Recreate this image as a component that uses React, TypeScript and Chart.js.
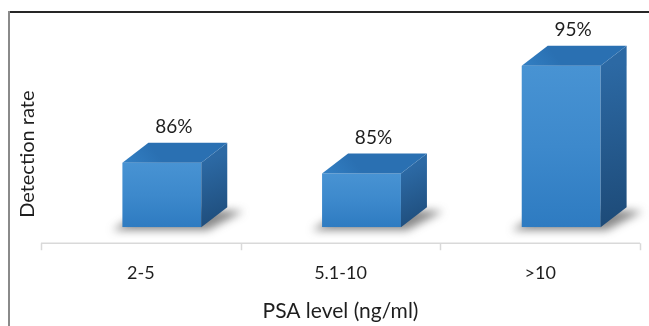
import React, { useEffect, useRef } from "react";
import { Chart, registerables } from "chart.js";

Chart.register(...registerables);

// PSA ranges and the detection rate (%) found in each
const categories = ["2-5", "5.1-10", ">10"];
const detectionRates = [86, 85, 95];
const rateAxisMin = 80;
const rateAxisMax = 100;
const valueTitle = "Detection rate";
const categoryTitle = "PSA level (ng/ml)";

const FONT = "Lato, 'Open Sans', sans-serif";
const TEXT = "#1e1e1e";

// 3D extrusion geometry for the blocks
const DEPTH_X = 26;
const DEPTH_Y = 20;
const SHIFT_X = 21;

const frame = {
  id: "frame",
  afterDraw(chart: any) {
    const { ctx } = chart;
    const w = chart.canvas.width;
    const h = chart.canvas.height;
    ctx.save();
    ctx.fillStyle = "#262626";
    ctx.fillRect(8, 11, w - 8, 2);
    ctx.fillStyle = "#8a8a8a";
    ctx.fillRect(8, 11, 2, h - 11);
    ctx.restore();
  },
};

// rotated value-axis caption, placed low beside the plot like the office-style layout
const valueCaption = {
  id: "valueCaption",
  afterDraw(chart: any) {
    const { ctx, chartArea } = chart;
    ctx.save();
    ctx.translate(28, chartArea.bottom - 73);
    ctx.rotate(-Math.PI / 2);
    ctx.fillStyle = TEXT;
    ctx.font = `20px ${FONT}`;
    ctx.textAlign = "center";
    ctx.textBaseline = "middle";
    ctx.fillText(valueTitle, 0, 0);
    ctx.restore();
  },
};

const categoryAxis = {
  id: "categoryAxis",
  beforeDatasetsDraw(chart: any) {
    const { ctx, chartArea } = chart;
    const xs = chart.scales.x;
    const half = (xs.getPixelForValue(1) - xs.getPixelForValue(0)) / 2;
    const y = chartArea.bottom + 16;
    ctx.save();
    ctx.strokeStyle = "#d9d9d9";
    ctx.lineWidth = 1.5;
    ctx.beginPath();
    ctx.moveTo(xs.left, y);
    ctx.lineTo(xs.right, y);
    for (let i = 0; i <= categories.length; i++) {
      const tx = Math.round(xs.getPixelForValue(0) - half + i * 2 * half) + 0.5;
      ctx.moveTo(tx, y);
      ctx.lineTo(tx, y + 7);
    }
    ctx.stroke();
    ctx.restore();
  },
};

const extrude = {
  id: "extrude",
  beforeDatasetsDraw(chart: any) {
    const { ctx } = chart;
    const meta = chart.getDatasetMeta(0);
    // soft floor shadows under each block
    meta.data.forEach((bar: any) => {
      const { x, base, width } = bar.getProps(["x", "base", "width"], true);
      const left = x - width / 2 + SHIFT_X;
      const right = x + width / 2 + SHIFT_X;
      ctx.save();
      ctx.filter = "blur(4px)";
      ctx.fillStyle = "rgba(60,60,60,0.6)";
      ctx.beginPath();
      ctx.moveTo(left - 10, base + 3);
      ctx.lineTo(right + 6, base + 3);
      ctx.lineTo(right + DEPTH_X + 16, base - DEPTH_Y + 4);
      ctx.lineTo(left + DEPTH_X, base - DEPTH_Y);
      ctx.closePath();
      ctx.fill();
      ctx.restore();
    });
    ctx.save();
    ctx.translate(SHIFT_X, 0);
  },
  afterDatasetsDraw(chart: any) {
    const { ctx } = chart;
    ctx.restore();
    const meta = chart.getDatasetMeta(0);
    meta.data.forEach((bar: any, i: number) => {
      const { x, y, base, width } = bar.getProps(["x", "y", "base", "width"], true);
      const L = x - width / 2 + SHIFT_X;
      const R = x + width / 2 + SHIFT_X;
      const T = y;
      const B = base;
      ctx.save();
      // side face
      const sg = ctx.createLinearGradient(R, T, R + DEPTH_X, B);
      sg.addColorStop(0, "#2c69a4");
      sg.addColorStop(1, "#1d4a77");
      ctx.fillStyle = sg;
      ctx.beginPath();
      ctx.moveTo(R, T);
      ctx.lineTo(R + DEPTH_X, T - DEPTH_Y);
      ctx.lineTo(R + DEPTH_X, B - DEPTH_Y);
      ctx.lineTo(R, B);
      ctx.closePath();
      ctx.fill();
      // top face
      const tg = ctx.createLinearGradient(L, T, L + DEPTH_X, T - DEPTH_Y);
      tg.addColorStop(0, "#3380c4");
      tg.addColorStop(1, "#2a70b2");
      ctx.fillStyle = tg;
      ctx.beginPath();
      ctx.moveTo(L, T);
      ctx.lineTo(L + DEPTH_X, T - DEPTH_Y);
      ctx.lineTo(R + DEPTH_X, T - DEPTH_Y);
      ctx.lineTo(R, T);
      ctx.closePath();
      ctx.fill();
      // value label
      ctx.fillStyle = TEXT;
      ctx.font = `19px ${FONT}`;
      ctx.textAlign = "center";
      ctx.textBaseline = "middle";
      ctx.fillText(`${detectionRates[i]}%`, (L + R) / 2 + DEPTH_X / 2 - 1, T - DEPTH_Y - 16);
      ctx.restore();
    });
  },
};

export default function App() {
  const ref = useRef<HTMLCanvasElement | null>(null);

  useEffect(() => {
    if (!ref.current) return;
    const chart = new Chart(ref.current, {
      type: "bar",
      data: {
        labels: categories,
        datasets: [
          {
            data: detectionRates,
            base: rateAxisMin,
            categoryPercentage: 1,
            barPercentage: 0.395,
            borderWidth: 0,
            backgroundColor: (c: any) => {
              const ys = c.chart.scales.y;
              if (!ys || c.raw == null) return "#3a86c9";
              const top = ys.getPixelForValue(c.raw);
              const bottom = ys.getPixelForValue(rateAxisMin);
              if (!Number.isFinite(top) || !Number.isFinite(bottom)) return "#3a86c9";
              const g = c.chart.ctx.createLinearGradient(0, top, 0, bottom);
              g.addColorStop(0, "#4893d3");
              g.addColorStop(0.5, "#3d89cc");
              g.addColorStop(1, "#2e7bc1");
              return g;
            },
          } as any,
        ],
      },
      options: {
        animation: false,
        responsive: false,
        devicePixelRatio: 1,
        layout: { padding: { left: 41, right: 9, top: 12, bottom: 0 } },
        plugins: { legend: { display: false }, tooltip: { enabled: false } },
        scales: {
          x: {
            grid: { display: false, drawTicks: false },
            border: { display: false },
            ticks: { color: TEXT, font: { family: FONT, size: 18 }, padding: 35 },
            title: {
              display: true,
              text: categoryTitle,
              color: TEXT,
              font: { family: FONT, size: 21 },
              padding: { top: -20, bottom: 2 },
            },
          },
          y: {
            display: false,
            min: rateAxisMin,
            max: rateAxisMax,
          },
        },
      },
      plugins: [categoryAxis, extrude, valueCaption, frame],
    });
    return () => chart.destroy();
  }, []);

  return (
    <canvas
      ref={ref}
      width={649}
      height={326}
      style={{ position: "fixed", left: 0, top: 0, width: 649, height: 326, background: "#fff" }}
    />
  );
}
